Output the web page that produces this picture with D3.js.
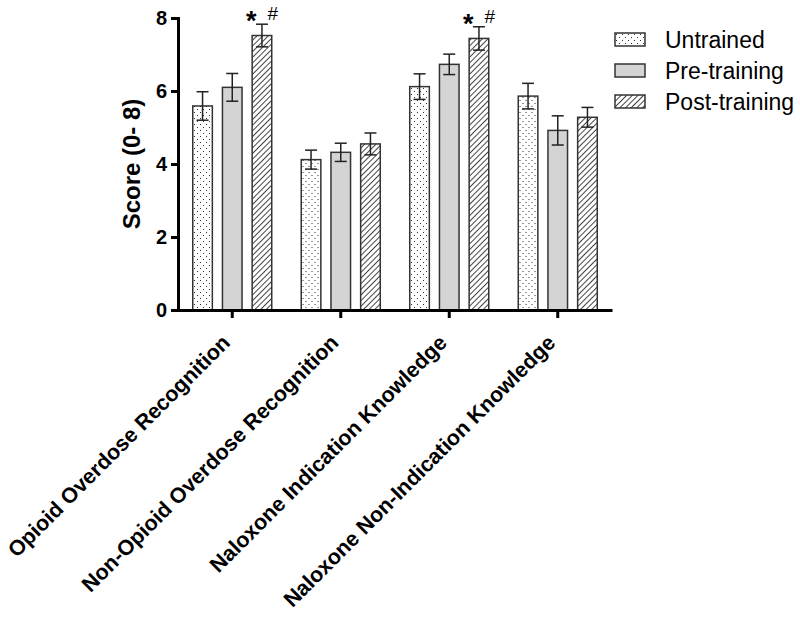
<!DOCTYPE html>
<html>
<head>
<meta charset="utf-8">
<script src="https://cdn.jsdelivr.net/npm/d3@7"></script>
<style>
  body { margin: 0; background: #fff; }
  svg text { font-family: "Liberation Sans", Arial, sans-serif; }
</style>
</head>
<body>
<svg id="chart" width="800" height="617"></svg>
<script>
// 数据
const categories = ['Opioid Overdose Recognition', 'Non-Opioid Overdose Recognition',
  'Naloxone Indication Knowledge', 'Naloxone Non-Indication Knowledge'];
const seriesNames = ['Untrained', 'Pre-training', 'Post-training'];
const untrained = [5.59, 4.12, 6.12, 5.86];
const untrainedErr = [0.39, 0.26, 0.35, 0.35];
const preTraining = [6.10, 4.32, 6.73, 4.92];
const preTrainingErr = [0.38, 0.25, 0.28, 0.40];
const postTraining = [7.52, 4.55, 7.44, 5.28];
const postTrainingErr = [0.31, 0.30, 0.32, 0.27];
const yTicks = [0, 2, 4, 6, 8];
const marks = ['*', '', '*', ''];   // 显著性标记 (vs Untrained)
const marks2 = ['#', '', '#', ''];  // (vs Pre-training)

const series = [
  { name: seriesNames[0], values: untrained, err: untrainedErr, fill: 'url(#dots)' },
  { name: seriesNames[1], values: preTraining, err: preTrainingErr, fill: '#d4d4d4' },
  { name: seriesNames[2], values: postTraining, err: postTrainingErr, fill: 'url(#hatch)' }
];

const svg = d3.select('#chart');
const margin = { left: 178, right: 188, top: 18, bottom: 307 };
const width = 800 - margin.left - margin.right;
const height = 617 - margin.top - margin.bottom;

// 图案
const defs = svg.append('defs');
const dots = defs.append('pattern').attr('id', 'dots')
  .attr('patternUnits', 'userSpaceOnUse').attr('width', 6).attr('height', 6);
dots.append('rect').attr('width', 6).attr('height', 6).attr('fill', '#fff');
dots.append('rect').attr('x', 1).attr('y', 1).attr('width', 1).attr('height', 1).attr('fill', '#333');
dots.append('rect').attr('x', 4).attr('y', 4).attr('width', 1).attr('height', 1).attr('fill', '#333');

const hatch = defs.append('pattern').attr('id', 'hatch')
  .attr('patternUnits', 'userSpaceOnUse').attr('width', 4).attr('height', 4)
  .attr('patternTransform', 'rotate(45)');
hatch.append('rect').attr('width', 4).attr('height', 4).attr('fill', '#fff');
hatch.append('line').attr('x1', 0).attr('y1', 0).attr('x2', 0).attr('y2', 4)
  .attr('stroke', '#222').attr('stroke-width', 1.7);

const g = svg.append('g').attr('transform', `translate(${margin.left},${margin.top})`);

const x0 = d3.scaleBand().domain(categories).range([0, width]).padding(0);
const x1 = d3.scaleBand().domain(seriesNames)
  .range([x0.bandwidth() / 2 - 39.5, x0.bandwidth() / 2 + 39.5]).paddingInner(0.34);
const y = d3.scaleLinear().domain([0, 8]).range([height, 0]);

// 柱子
categories.forEach((cat, i) => {
  const grp = g.append('g').attr('transform', `translate(${x0(cat)},0)`);
  series.forEach(s => {
    const bx = x1(s.name);
    const bw = x1.bandwidth();
    grp.append('rect')
      .attr('x', bx).attr('y', y(s.values[i]))
      .attr('width', bw).attr('height', y(0) - y(s.values[i]))
      .attr('fill', s.fill).attr('stroke', '#333').attr('stroke-width', 1.5);
    // 误差线
    const cx = bx + bw / 2;
    const hi = y(s.values[i] + s.err[i]);
    const lo = y(s.values[i] - s.err[i]);
    grp.append('line').attr('x1', cx).attr('x2', cx).attr('y1', hi).attr('y2', lo)
      .attr('stroke', '#222').attr('stroke-width', 1.5);
    [hi, lo].forEach(v => grp.append('line').attr('x1', cx - 6).attr('x2', cx + 6)
      .attr('y1', v).attr('y2', v).attr('stroke', '#222').attr('stroke-width', 1.5));
  });
  // 显著性标记
  const post = series[2];
  const px = x1(post.name);
  const top = y(post.values[i] + post.err[i]);
  if (marks[i]) {
    grp.append('text').attr('x', px - 1).attr('y', top + 6)
      .attr('text-anchor', 'middle').attr('font-size', 27).attr('font-weight', 'bold')
      .text(marks[i]);
  }
  if (marks2[i]) {
    grp.append('text').attr('x', px + x1.bandwidth() + 1).attr('y', top - 4)
      .attr('text-anchor', 'middle').attr('font-size', 19)
      .text(marks2[i]);
  }
});

// Y 轴
const yAxis = g.append('g').call(d3.axisLeft(y).tickValues(yTicks).tickSize(7).tickPadding(4));
yAxis.select('.domain').attr('stroke', '#000').attr('stroke-width', 3);
yAxis.selectAll('.tick line').attr('stroke', '#000').attr('stroke-width', 3);
yAxis.selectAll('.tick text').attr('font-size', 20).attr('font-weight', 'bold')
  .attr('font-family', '"Liberation Sans", Arial, sans-serif').attr('fill', '#000');

// X 轴
const xAxis = g.append('g').attr('transform', `translate(0,${height})`)
  .call(d3.axisBottom(x0).tickSize(8).tickSizeOuter(0));
xAxis.select('.domain').attr('stroke', '#000').attr('stroke-width', 3);
xAxis.selectAll('.tick line').attr('stroke', '#000').attr('stroke-width', 3);
xAxis.selectAll('.tick text')
  .attr('font-size', 21.5).attr('font-weight', 'bold')
  .attr('font-family', '"Liberation Sans", Arial, sans-serif').attr('fill', '#000')
  .attr('text-anchor', 'end').attr('dy', 0).attr('y', 0)
  .attr('transform', 'translate(-1,34) rotate(-45)');

// Y 轴标题
g.append('text')
  .attr('transform', `translate(-38,${height / 2}) rotate(-90)`)
  .attr('text-anchor', 'middle').attr('font-size', 24).attr('font-weight', 'bold')
  .text('Score (0- 8)');

// 图例
const legend = svg.append('g').attr('transform', 'translate(615,33)');
series.forEach((s, i) => {
  const row = legend.append('g').attr('transform', `translate(0,${i * 31})`);
  row.append('rect').attr('width', 30).attr('height', 13)
    .attr('fill', s.fill).attr('stroke', '#333').attr('stroke-width', 1.5);
  row.append('text').attr('x', 50).attr('y', 6.5).attr('dy', '0.35em')
    .attr('font-size', 23).text(s.name);
});
</script>
</body>
</html>
